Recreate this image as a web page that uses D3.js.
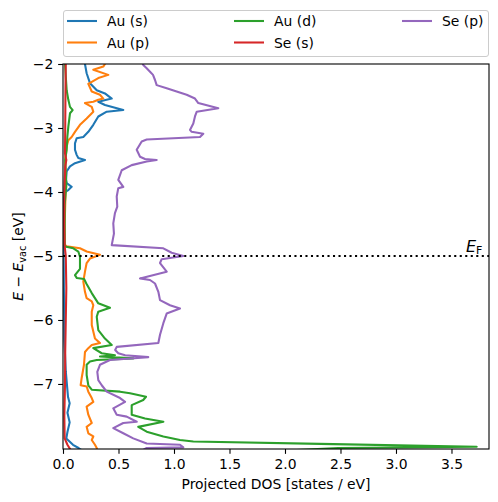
<!DOCTYPE html>
<html><head><meta charset="utf-8">
<script src="https://cdn.jsdelivr.net/npm/d3@7"></script>
<style>body{margin:0;background:#fff;} text{font-family:"DejaVu Sans",sans-serif;}</style>
</head><body>
<svg id="c" width="498" height="502"></svg>
<script>
// Data: [energy (eV), projected DOS (states/eV)]
const seriesNames = ["Au (s)", "Au (p)", "Au (d)", "Se (s)", "Se (p)"];
const seriesColors = ["#1f77b4", "#ff7f0e", "#2ca02c", "#d62728", "#9467bd"];
const xTicks = [0, 0.5, 1.0, 1.5, 2.0, 2.5, 3.0, 3.5];
const yTicks = [-7, -6, -5, -4, -3, -2];
const fermiLevel = -5.0;

const auS = [[-1.95,0.195],[-2.0,0.198],[-2.145,0.213],[-2.30,0.243],[-2.41,0.304],[-2.46,0.378],[-2.54,0.439],[-2.59,0.318],[-2.64,0.378],[-2.72,0.543],[-2.745,0.394],[-2.82,0.318],[-2.95,0.273],[-3.06,0.228],[-3.14,0.183],[-3.16,0.123],[-3.24,0.108],[-3.34,0.108],[-3.42,0.123],[-3.47,0.138],[-3.50,0.198],[-3.55,0.108],[-3.60,0.063],[-3.68,0.033],[-3.81,0.027],[-3.86,0.033],[-3.92,0.078],[-3.97,0.048],[-4.0,0.018],[-4.1,0.01],[-4.8,0.005],[-5.5,0.008],[-6.3,0.012],[-6.8,0.025],[-7.2,0.045],[-7.3,0.06],[-7.45,0.04],[-7.6,0.06],[-7.75,0.04],[-7.85,0.03],[-7.95,0.09],[-8.0,0.14],[-8.05,0.18]];

const auP = [[-1.95,0.38],[-2.0,0.378],[-2.04,0.363],[-2.09,0.273],[-2.17,0.408],[-2.22,0.318],[-2.31,0.228],[-2.43,0.259],[-2.48,0.333],[-2.54,0.363],[-2.56,0.318],[-2.59,0.273],[-2.61,0.198],[-2.67,0.259],[-2.745,0.273],[-2.85,0.213],[-2.95,0.153],[-3.06,0.108],[-3.14,0.078],[-3.19,0.048],[-3.29,0.033],[-3.5,0.02],[-3.9,0.025],[-4.5,0.015],[-4.82,0.015],[-4.85,0.033],[-4.88,0.153],[-4.93,0.213],[-4.98,0.333],[-5.04,0.243],[-5.11,0.213],[-5.245,0.198],[-5.40,0.183],[-5.56,0.198],[-5.66,0.213],[-5.71,0.259],[-5.77,0.273],[-5.87,0.259],[-6.08,0.259],[-6.29,0.288],[-6.36,0.333],[-6.39,0.259],[-6.44,0.228],[-6.50,0.198],[-6.70,0.189],[-6.91,0.168],[-7.02,0.159],[-7.04,0.213],[-7.12,0.228],[-7.22,0.259],[-7.28,0.273],[-7.355,0.213],[-7.48,0.228],[-7.61,0.259],[-7.67,0.213],[-7.77,0.228],[-7.82,0.273],[-7.875,0.259],[-7.95,0.288],[-8.0,0.304],[-8.05,0.31]];

const auD = [[-1.95,0.018],[-2.0,0.018],[-2.41,0.033],[-2.56,0.048],[-2.67,0.063],[-2.72,0.087],[-2.77,0.063],[-2.98,0.048],[-3.14,0.039],[-3.34,0.033],[-3.5,0.02],[-3.9,0.03],[-4.2,0.015],[-4.8,0.015],[-4.85,0.018],[-4.88,0.093],[-4.93,0.138],[-5.01,0.153],[-5.2,0.153],[-5.30,0.108],[-5.345,0.125],[-5.36,0.19],[-5.43,0.21],[-5.58,0.259],[-5.74,0.318],[-5.81,0.423],[-5.87,0.318],[-5.95,0.304],[-6.16,0.318],[-6.29,0.378],[-6.39,0.439],[-6.44,0.273],[-6.52,0.349],[-6.55,0.468],[-6.57,0.333],[-6.60,0.634],[-6.625,0.304],[-6.65,0.243],[-6.70,0.213],[-6.86,0.213],[-7.02,0.228],[-7.09,0.259],[-7.12,0.514],[-7.145,0.604],[-7.20,0.748],[-7.25,0.723],[-7.33,0.619],[-7.48,0.619],[-7.54,0.739],[-7.59,0.904],[-7.67,0.678],[-7.745,0.754],[-7.82,0.904],[-7.875,1.054],[-7.90,1.174],[-7.94,2.435],[-7.98,3.727],[-8.0,2.48],[-8.05,1.9]];

const seS = [[-1.95,0.025],[-2.5,0.022],[-3.0,0.02],[-3.4,0.018],[-3.5,0.03],[-3.6,0.02],[-4.0,0.012],[-4.5,0.01],[-4.85,0.015],[-5.0,0.025],[-5.5,0.03],[-6.0,0.025],[-6.5,0.02],[-7.0,0.018],[-7.5,0.012],[-7.85,0.015],[-7.95,0.04],[-8.02,0.065],[-8.05,0.07]];

const seP = [[-1.95,0.71],[-2.016,0.723],[-2.067,0.754],[-2.12,0.784],[-2.17,0.811],[-2.25,0.829],[-2.33,0.844],[-2.38,0.934],[-2.43,1.024],[-2.48,1.114],[-2.54,1.189],[-2.61,1.219],[-2.69,1.399],[-2.745,1.205],[-2.82,1.189],[-2.93,1.174],[-3.03,1.144],[-3.06,1.159],[-3.09,1.264],[-3.14,1.234],[-3.18,0.754],[-3.21,0.709],[-3.34,0.664],[-3.45,0.694],[-3.485,0.739],[-3.50,0.844],[-3.525,0.754],[-3.58,0.619],[-3.66,0.529],[-3.81,0.498],[-3.92,0.543],[-3.94,0.498],[-4.07,0.484],[-4.23,0.489],[-4.33,0.468],[-4.49,0.453],[-4.65,0.459],[-4.83,0.439],[-4.88,0.904],[-4.95,0.979],[-5.0,1.084],[-5.05,0.889],[-5.11,0.874],[-5.245,0.934],[-5.35,0.694],[-5.375,0.784],[-5.43,0.829],[-5.56,0.859],[-5.69,0.874],[-5.77,0.964],[-5.82,1.054],[-5.90,0.934],[-6.05,0.904],[-6.23,0.874],[-6.36,0.859],[-6.42,0.484],[-6.47,0.47],[-6.52,0.498],[-6.55,0.56],[-6.58,0.768],[-6.625,0.423],[-6.70,0.333],[-6.81,0.309],[-6.94,0.318],[-7.02,0.349],[-7.12,0.394],[-7.22,0.514],[-7.28,0.559],[-7.38,0.453],[-7.48,0.484],[-7.51,0.574],[-7.59,0.664],[-7.61,0.543],[-7.69,0.453],[-7.77,0.543],[-7.85,0.633],[-7.93,0.754],[-7.95,1.054],[-7.99,1.084],[-8.0,0.754],[-8.05,0.7]];

const seriesData = [auS, auP, auD, seS, seP];

const svg = d3.select("#c");
const L = 63, R = 489, T = 64, B = 449;
const x = d3.scaleLinear().domain([0, 3.838]).range([L, R]);
const y = d3.scaleLinear().domain([-8.016, -2]).range([B, T]);

svg.append("defs").append("clipPath").attr("id","clip")
  .append("rect").attr("x",L).attr("y",T).attr("width",R-L).attr("height",B-T);

const line = d3.line().x(d => x(d[1])).y(d => y(d[0]));
const g = svg.append("g").attr("clip-path","url(#clip)");
seriesData.forEach((s,i) => {
  g.append("path").datum(s).attr("d", line)
    .attr("fill","none").attr("stroke",seriesColors[i]).attr("stroke-width",2.08)
    .attr("stroke-linejoin","round").attr("stroke-linecap","butt");
});

// Fermi level
g.append("line").attr("x1",L).attr("x2",R).attr("y1",y(fermiLevel)).attr("y2",y(fermiLevel))
  .attr("stroke","#000").attr("stroke-width",2.08).attr("stroke-dasharray","2.08,3.43");
const ef = svg.append("text").attr("x",x(3.63)).attr("y",y(fermiLevel)-4)
  .attr("font-size",16).attr("fill","#000");
ef.append("tspan").attr("font-style","italic").text("E");
ef.append("tspan").attr("font-size",11).attr("dy",2).text("F");

// Axes
const xAxis = d3.axisBottom(x).tickValues(xTicks).tickFormat(d3.format(".1f")).tickSize(4.86).tickPadding(4.86);
const yAxis = d3.axisLeft(y).tickValues(yTicks).tickFormat(d => d3.format("d")(d).replace("-","\u2212")).tickSize(4.86).tickPadding(4.86);
const gx = svg.append("g").attr("transform",`translate(0,${B})`).call(xAxis);
const gy = svg.append("g").attr("transform",`translate(${L},0)`).call(yAxis);
[gx,gy].forEach(a => {
  a.select(".domain").remove();
  a.selectAll("text").attr("font-family","DejaVu Sans").attr("font-size",13.9).attr("fill","#000");
  a.selectAll("line").attr("stroke","#000").attr("stroke-width",1.1);
});
svg.append("rect").attr("x",L).attr("y",T).attr("width",R-L).attr("height",B-T)
  .attr("fill","none").attr("stroke","#000").attr("stroke-width",1.1);

// Labels
svg.append("text").attr("x",(L+R)/2).attr("y",489).attr("text-anchor","middle")
  .attr("font-size",13.9).text("Projected DOS [states / eV]");
const yl = svg.append("text").attr("transform",`translate(23,${(T+B)/2}) rotate(-90)`)
  .attr("text-anchor","middle").attr("font-size",13.9);
yl.append("tspan").attr("font-style","italic").text("E");
yl.append("tspan").text(" \u2212 ");
yl.append("tspan").attr("font-style","italic").text("E");
yl.append("tspan").attr("font-size",9.7).attr("dy",2.5).text("vac");
yl.append("tspan").attr("dy",-2.5).text(" [eV]");

// Legend
const lg = svg.append("g");
lg.append("rect").attr("x",63.5).attr("y",10.5).attr("width",425).attr("height",46).attr("rx",2.5)
  .attr("fill","#fff").attr("stroke","#ccc").attr("stroke-width",1);
const colX = [67, 234, 402];
const rowY = [21, 42.5];
seriesNames.forEach((n,i) => {
  const c = Math.floor(i/2), r = i%2;
  lg.append("line").attr("x1",colX[c]).attr("x2",colX[c]+30).attr("y1",rowY[r]).attr("y2",rowY[r])
    .attr("stroke",seriesColors[i]).attr("stroke-width",2.08);
  lg.append("text").attr("x",colX[c]+40).attr("y",rowY[r]+5).attr("font-size",13.9).text(n);
});
</script>
</body></html>
